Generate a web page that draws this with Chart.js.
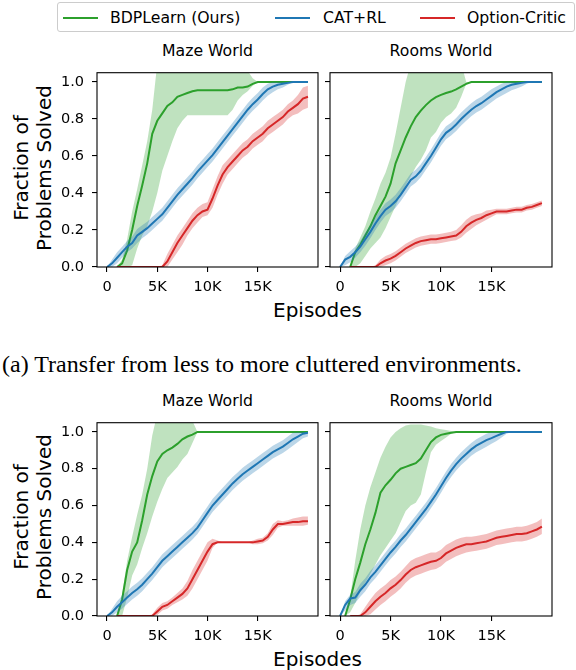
<!DOCTYPE html>
<html lang="en">
<head>
    <meta charset="UTF-8">
    <title>Fraction of Problems Solved</title>
    <style>
        body {
            margin: 0;
            background: #ffffff;
        }

        #page {
            position: relative;
            width: 576px;
            height: 670px;
            overflow: hidden;
            font-family: "DejaVu Sans", sans-serif;
            color: #000;
        }

        canvas {
            position: absolute;
        }

        .txt {
            position: absolute;
            white-space: nowrap;
            line-height: 1;
            transform: translate(-50%, -50%);
        }

        .title { font-size: 15.7px; }
        .xlabel { font-size: 20px; }

        .ylabel {
            font-size: 20px;
            line-height: 23px;
            text-align: center;
            transform: translate(-50%, -50%) rotate(-90deg);
        }

        #caption {
            position: absolute;
            left: 2px;
            top: 364px;
            transform: translateY(-50%);
            font-family: "Liberation Serif", serif;
            font-size: 24px;
            line-height: 1;
            white-space: nowrap;
        }

        #legend {
            position: absolute;
            left: 57px;
            top: 2px;
            width: 518px;
            height: 30px;
            border: 1px solid #cccccc;
            border-radius: 3px;
            box-sizing: border-box;
        }

        .swatch {
            position: absolute;
            top: 14px;
            width: 35px;
            height: 2px;
        }

        .ltext {
            position: absolute;
            top: 15px;
            font-size: 15.7px;
            line-height: 1;
            white-space: nowrap;
            transform: translateY(-50%);
        }
    </style>
</head>
<body>
<div id="page">
    <div id="legend">
        <div class="swatch" style="left:5px;background:#2ca02c"></div>
        <div class="ltext" style="left:52px">BDPLearn (Ours)</div>
        <div class="swatch" style="left:217px;background:#1f77b4"></div>
        <div class="ltext" style="left:265px">CAT+RL</div>
        <div class="swatch" style="left:362px;background:#d62728"></div>
        <div class="ltext" style="left:409px">Option-Critic</div>
    </div>

    <div class="txt title" style="left:207.5px;top:51px">Maze World</div>
    <div class="txt title" style="left:441px;top:51px">Rooms World</div>
    <div class="txt ylabel" style="left:32.5px;top:167.5px">Fraction of<br>Problems Solved</div>
    <div class="txt xlabel" style="left:317.5px;top:310px">Episodes</div>

    <div id="caption">(a) Transfer from less to more cluttered environments.</div>

    <div class="txt title" style="left:207.5px;top:401px">Maze World</div>
    <div class="txt title" style="left:441px;top:401px">Rooms World</div>
    <div class="txt ylabel" style="left:32.5px;top:517px">Fraction of<br>Problems Solved</div>
    <div class="txt xlabel" style="left:317.5px;top:659px">Episodes</div>

    <canvas id="mazeA"></canvas>
    <canvas id="roomsA"></canvas>
    <canvas id="mazeB"></canvas>
    <canvas id="roomsB"></canvas>
</div>

<script src="https://cdn.jsdelivr.net/npm/chart.js@4"></script>
<script>
    // x positions of every sample (episodes)
    const episodes = [0, 500, 1000, 1500, 2000, 2500, 3000, 3500, 4000, 4500,
        5000, 5500, 6000, 6500, 7000, 7500, 8000, 8500, 9000, 9500,
        10000, 10500, 11000, 11500, 12000, 12500, 13000, 13500, 14000, 14500,
        15000, 15500, 16000, 16500, 17000, 17500, 18000, 18500, 19000, 19500, 20000];

    const xTicks = [0, 5000, 10000, 15000];
    const xTickLabels = ['0', '5K', '10K', '15K'];
    const yTicks = [0, 0.2, 0.4, 0.6, 0.8, 1.0];
    const yTickLabels = ['0.0', '0.2', '0.4', '0.6', '0.8', '1.0'];

    // ---- (a) Maze World ----
    const bdpMazeA = [null, null, 0, 0.02, 0.09, 0.2, 0.33, 0.44, 0.56, 0.72,
        0.79, 0.83, 0.87, 0.89, 0.92, 0.93, 0.94, 0.95, 0.955, 0.955,
        0.955, 0.955, 0.955, 0.955, 0.955, 0.96, 0.97, 0.97, 0.975, 0.99,
        1, 1, 1, 1, 1, 1, 1, 1, 1, 1, 1];
    const bdpMazeALow = [0, 0, 0, 0, 0, 0.01, 0.1, 0.17, 0.22, 0.3,
        0.4, 0.52, 0.6, 0.68, 0.75, 0.79, 0.82, 0.82, 0.82, 0.82,
        0.82, 0.82, 0.82, 0.82, 0.82, 0.85, 0.9, 0.93, 0.95, 0.98,
        1, 1, 1, 1, 1, 1, 1, 1, 1, 1, 1];
    const bdpMazeAHigh = [0, 0, 0, 0.04, 0.15, 0.3, 0.42, 0.55, 0.68, 0.85,
        1.1, 1.1, 1.1, 1.1, 1.1, 1.1, 1.1, 1.1, 1.1, 1.1,
        1.1, 1.1, 1.1, 1.1, 1.1, 1.1, 1.1, 1.1, 1.06, 1.02,
        1, 1, 1, 1, 1, 1, 1, 1, 1, 1, 1];
    const catMazeA = [0, 0.02, 0.05, 0.08, 0.11, 0.13, 0.17, 0.19, 0.21, 0.235,
        0.26, 0.285, 0.32, 0.355, 0.39, 0.42, 0.45, 0.48, 0.515, 0.545,
        0.575, 0.605, 0.64, 0.675, 0.71, 0.745, 0.78, 0.815, 0.85, 0.88,
        0.905, 0.935, 0.96, 0.975, 0.985, 0.99, 0.995, 1, 1, 1, 1];
    const catMazeALow = [0, 0, 0.02, 0.05, 0.08, 0.1, 0.13, 0.155, 0.175, 0.2,
        0.225, 0.25, 0.285, 0.32, 0.355, 0.385, 0.415, 0.445, 0.48, 0.51,
        0.54, 0.57, 0.605, 0.64, 0.675, 0.71, 0.745, 0.78, 0.815, 0.845,
        0.87, 0.9, 0.925, 0.945, 0.96, 0.97, 0.985, 1, 1, 1, 1];
    const catMazeAHigh = [0, 0.04, 0.08, 0.11, 0.14, 0.165, 0.205, 0.225, 0.245, 0.27,
        0.295, 0.32, 0.355, 0.39, 0.425, 0.455, 0.485, 0.515, 0.55, 0.58,
        0.61, 0.64, 0.675, 0.71, 0.745, 0.78, 0.815, 0.85, 0.885, 0.915,
        0.94, 0.97, 0.99, 1, 1, 1, 1, 1, 1, 1, 1];
    const ocMazeA = [null, null, 0, 0, 0, 0, 0, 0, 0, 0,
        0, 0, 0.03, 0.08, 0.13, 0.17, 0.21, 0.25, 0.28, 0.3,
        0.31, 0.37, 0.44, 0.5, 0.54, 0.57, 0.6, 0.63, 0.65, 0.68,
        0.7, 0.72, 0.75, 0.77, 0.79, 0.81, 0.84, 0.86, 0.88, 0.91, 0.92];
    const ocMazeALow = [0, 0, 0, 0, 0, 0, 0, 0, 0, 0,
        0, 0, 0, 0.04, 0.08, 0.12, 0.17, 0.21, 0.24, 0.27,
        0.28, 0.32, 0.39, 0.45, 0.5, 0.53, 0.56, 0.59, 0.61, 0.64,
        0.66, 0.68, 0.71, 0.73, 0.75, 0.77, 0.8, 0.82, 0.83, 0.85, 0.86];
    const ocMazeAHigh = [0, 0, 0, 0, 0, 0, 0, 0, 0, 0,
        0, 0.01, 0.07, 0.12, 0.17, 0.21, 0.25, 0.29, 0.32, 0.34,
        0.35, 0.42, 0.49, 0.55, 0.58, 0.61, 0.64, 0.67, 0.69, 0.72,
        0.74, 0.76, 0.79, 0.81, 0.83, 0.85, 0.88, 0.9, 0.93, 0.97, 0.98];

    // ---- (a) Rooms World ----
    const bdpRoomsA = [null, null, 0, 0.08, 0.12, 0.17, 0.22, 0.28, 0.33, 0.38,
        0.45, 0.56, 0.63, 0.7, 0.76, 0.81, 0.845, 0.875, 0.9, 0.918,
        0.93, 0.94, 0.948, 0.96, 0.975, 0.99, 1, 1, 1, 1,
        1, 1, 1, 1, 1, 1, 1, 1, 1, 1, 1];
    const bdpRoomsALow = [0, 0, 0, 0, 0.02, 0.06, 0.1, 0.13, 0.16, 0.21,
        0.27, 0.33, 0.39, 0.44, 0.49, 0.54, 0.58, 0.63, 0.7, 0.73,
        0.78, 0.81, 0.83, 0.86, 0.92, 0.99, 1, 1, 1, 1,
        1, 1, 1, 1, 1, 1, 1, 1, 1, 1, 1];
    const bdpRoomsAHigh = [0, 0, 0, 0.1, 0.16, 0.22, 0.3, 0.37, 0.45, 0.51,
        0.59, 0.72, 0.86, 1.0, 1.1, 1.1, 1.1, 1.1, 1.1, 1.1,
        1.1, 1.1, 1.1, 1.1, 1.1, 1.0, 1, 1, 1, 1,
        1, 1, 1, 1, 1, 1, 1, 1, 1, 1, 1];
    const catRoomsA = [0, 0.04, 0.055, 0.08, 0.11, 0.15, 0.19, 0.235, 0.275, 0.31,
        0.33, 0.355, 0.39, 0.43, 0.47, 0.49, 0.52, 0.56, 0.6, 0.645,
        0.69, 0.725, 0.745, 0.77, 0.8, 0.825, 0.85, 0.87, 0.885, 0.905,
        0.925, 0.945, 0.96, 0.975, 0.985, 0.99, 0.995, 1, 1, 1, 1];
    const catRoomsALow = [0, 0.01, 0.025, 0.05, 0.08, 0.115, 0.155, 0.2, 0.24, 0.275,
        0.295, 0.32, 0.355, 0.395, 0.435, 0.455, 0.485, 0.525, 0.565, 0.61,
        0.655, 0.69, 0.71, 0.735, 0.765, 0.79, 0.815, 0.835, 0.85, 0.87,
        0.89, 0.91, 0.925, 0.94, 0.955, 0.965, 0.975, 0.99, 1, 1, 1];
    const catRoomsAHigh = [0, 0.06, 0.085, 0.11, 0.14, 0.185, 0.225, 0.27, 0.31, 0.345,
        0.365, 0.39, 0.425, 0.465, 0.505, 0.525, 0.555, 0.595, 0.635, 0.68,
        0.725, 0.76, 0.78, 0.805, 0.835, 0.86, 0.885, 0.905, 0.92, 0.94,
        0.96, 0.975, 0.99, 1, 1, 1, 1, 1, 1, 1, 1];
    const ocRoomsA = [null, null, 0, 0, 0, 0, 0, 0, 0.02, 0.035,
        0.045, 0.06, 0.08, 0.1, 0.115, 0.13, 0.14, 0.145, 0.15, 0.15,
        0.155, 0.16, 0.165, 0.17, 0.19, 0.22, 0.24, 0.255, 0.265, 0.28,
        0.29, 0.3, 0.3, 0.3, 0.305, 0.31, 0.31, 0.32, 0.325, 0.335, 0.345];
    const ocRoomsALow = [0, 0, 0, 0, 0, 0, 0, 0, 0, 0.01,
        0.02, 0.035, 0.055, 0.075, 0.09, 0.105, 0.115, 0.12, 0.125, 0.125,
        0.13, 0.135, 0.14, 0.145, 0.16, 0.185, 0.205, 0.225, 0.24, 0.255,
        0.27, 0.285, 0.285, 0.285, 0.29, 0.295, 0.295, 0.305, 0.31, 0.32, 0.33];
    const ocRoomsAHigh = [0, 0, 0, 0, 0, 0, 0, 0.01, 0.04, 0.06,
        0.07, 0.085, 0.105, 0.125, 0.14, 0.155, 0.165, 0.17, 0.175, 0.175,
        0.18, 0.185, 0.19, 0.2, 0.225, 0.255, 0.275, 0.285, 0.29, 0.305,
        0.31, 0.315, 0.315, 0.315, 0.32, 0.325, 0.325, 0.335, 0.34, 0.35, 0.36];

    // ---- (b) Maze World ----
    const bdpMazeB = [null, null, 0, 0.09, 0.25, 0.35, 0.4, 0.52, 0.66, 0.76,
        0.84, 0.88, 0.9, 0.915, 0.935, 0.96, 0.975, 0.985, 1, 1,
        1, 1, 1, 1, 1, 1, 1, 1, 1, 1,
        1, 1, 1, 1, 1, 1, 1, 1, 1, 1, 1];
    const bdpMazeBLow = [0, 0, 0, 0, 0.1, 0.22, 0.28, 0.37, 0.45, 0.54,
        0.62, 0.69, 0.75, 0.78, 0.81, 0.85, 0.88, 0.94, 1, 1,
        1, 1, 1, 1, 1, 1, 1, 1, 1, 1,
        1, 1, 1, 1, 1, 1, 1, 1, 1, 1, 1];
    const bdpMazeBHigh = [0, 0, 0, 0.12, 0.3, 0.43, 0.55, 0.66, 0.8, 0.98,
        1.1, 1.1, 1.1, 1.1, 1.1, 1.1, 1.1, 1.06, 1, 1,
        1, 1, 1, 1, 1, 1, 1, 1, 1, 1,
        1, 1, 1, 1, 1, 1, 1, 1, 1, 1, 1];
    const catMazeB = [0, 0.02, 0.05, 0.075, 0.1, 0.125, 0.145, 0.17, 0.2, 0.23,
        0.265, 0.3, 0.325, 0.35, 0.375, 0.4, 0.425, 0.45, 0.48, 0.52,
        0.56, 0.6, 0.63, 0.66, 0.69, 0.72, 0.745, 0.77, 0.79, 0.81,
        0.83, 0.85, 0.87, 0.89, 0.905, 0.92, 0.94, 0.96, 0.975, 0.99, 0.995];
    const catMazeBLow = [0, 0, 0.02, 0.04, 0.065, 0.09, 0.11, 0.135, 0.165, 0.195,
        0.23, 0.265, 0.29, 0.315, 0.34, 0.365, 0.39, 0.415, 0.445, 0.485,
        0.525, 0.565, 0.595, 0.625, 0.655, 0.685, 0.71, 0.735, 0.755, 0.775,
        0.795, 0.815, 0.835, 0.855, 0.87, 0.885, 0.905, 0.925, 0.945, 0.965, 0.975];
    const catMazeBHigh = [0, 0.04, 0.08, 0.11, 0.135, 0.16, 0.18, 0.205, 0.235, 0.265,
        0.3, 0.335, 0.36, 0.385, 0.41, 0.435, 0.46, 0.485, 0.515, 0.555,
        0.595, 0.635, 0.665, 0.695, 0.725, 0.755, 0.78, 0.805, 0.825, 0.845,
        0.865, 0.885, 0.905, 0.925, 0.94, 0.955, 0.975, 0.995, 1, 1, 1];
    const ocMazeB = [null, null, 0, 0, 0, 0, 0, 0, 0, 0,
        0.025, 0.05, 0.06, 0.08, 0.1, 0.12, 0.15, 0.2, 0.25, 0.3,
        0.35, 0.39, 0.4, 0.4, 0.4, 0.4, 0.4, 0.4, 0.4, 0.4,
        0.405, 0.41, 0.43, 0.47, 0.5, 0.5, 0.505, 0.51, 0.51, 0.515, 0.515];
    const ocMazeBLow = [0, 0, 0, 0, 0, 0, 0, 0, 0, 0,
        0.005, 0.03, 0.04, 0.06, 0.075, 0.09, 0.11, 0.15, 0.2, 0.25,
        0.3, 0.37, 0.4, 0.4, 0.4, 0.4, 0.4, 0.4, 0.4, 0.39,
        0.39, 0.395, 0.41, 0.44, 0.48, 0.49, 0.49, 0.49, 0.49, 0.49, 0.495];
    const ocMazeBHigh = [0, 0, 0, 0, 0, 0, 0, 0, 0, 0.01,
        0.045, 0.07, 0.08, 0.1, 0.125, 0.15, 0.19, 0.25, 0.3, 0.35,
        0.4, 0.42, 0.41, 0.4, 0.4, 0.4, 0.4, 0.4, 0.4, 0.41,
        0.42, 0.425, 0.45, 0.5, 0.52, 0.515, 0.52, 0.53, 0.535, 0.54, 0.54];

    // ---- (b) Rooms World ----
    const bdpRoomsB = [null, 0, 0.09, 0.2, 0.29, 0.39, 0.47, 0.56, 0.67, 0.71,
        0.74, 0.775, 0.8, 0.81, 0.82, 0.83, 0.855, 0.9, 0.945, 0.97,
        0.984, 0.99, 0.995, 1, 1, 1, 1, 1, 1, 1,
        1, 1, 1, 1, 1, 1, 1, 1, 1, 1, 1];
    const bdpRoomsBLow = [0, 0, 0.02, 0.07, 0.13, 0.18, 0.23, 0.28, 0.33, 0.37,
        0.41, 0.45, 0.51, 0.57, 0.6, 0.615, 0.66, 0.78, 0.89, 0.93,
        0.95, 0.97, 0.99, 1, 1, 1, 1, 1, 1, 1,
        1, 1, 1, 1, 1, 1, 1, 1, 1, 1, 1];
    const bdpRoomsBHigh = [0, 0, 0.1, 0.3, 0.47, 0.6, 0.7, 0.78, 0.86, 0.92,
        0.97, 1.0, 1.02, 1.035, 1.04, 1.04, 1.04, 1.035, 1.03, 1.02,
        1.015, 1.01, 1.005, 1, 1, 1, 1, 1, 1, 1,
        1, 1, 1, 1, 1, 1, 1, 1, 1, 1, 1];
    const catRoomsB = [0, 0.06, 0.095, 0.1, 0.14, 0.17, 0.21, 0.24, 0.275, 0.31,
        0.345, 0.375, 0.41, 0.44, 0.475, 0.51, 0.545, 0.58, 0.62, 0.66,
        0.705, 0.75, 0.79, 0.825, 0.855, 0.88, 0.905, 0.925, 0.94, 0.955,
        0.966, 0.978, 0.99, 1, 1, 1, 1, 1, 1, 1, 1];
    const catRoomsBLow = [0, 0.03, 0.06, 0.07, 0.105, 0.135, 0.175, 0.205, 0.24, 0.275,
        0.31, 0.34, 0.375, 0.405, 0.44, 0.475, 0.51, 0.545, 0.585, 0.625,
        0.67, 0.715, 0.755, 0.79, 0.82, 0.845, 0.87, 0.89, 0.905, 0.92,
        0.935, 0.95, 0.97, 0.99, 1, 1, 1, 1, 1, 1, 1];
    const catRoomsBHigh = [0, 0.08, 0.115, 0.13, 0.175, 0.205, 0.245, 0.275, 0.31, 0.345,
        0.38, 0.41, 0.445, 0.475, 0.51, 0.545, 0.58, 0.615, 0.655, 0.695,
        0.74, 0.785, 0.825, 0.86, 0.89, 0.915, 0.94, 0.96, 0.975, 0.99,
        1, 1, 1, 1, 1, 1, 1, 1, 1, 1, 1];
    const ocRoomsB = [null, null, 0, 0, 0, 0.02, 0.05, 0.08, 0.105, 0.125,
        0.15, 0.17, 0.195, 0.225, 0.25, 0.265, 0.275, 0.285, 0.295, 0.3,
        0.315, 0.34, 0.355, 0.37, 0.38, 0.39, 0.39, 0.395, 0.4, 0.405,
        0.415, 0.425, 0.43, 0.435, 0.44, 0.445, 0.445, 0.45, 0.46, 0.47, 0.485];
    const ocRoomsBLow = [0, 0, 0, 0, 0, 0, 0.01, 0.035, 0.06, 0.08,
        0.105, 0.125, 0.15, 0.18, 0.205, 0.22, 0.23, 0.24, 0.25, 0.255,
        0.27, 0.295, 0.31, 0.325, 0.335, 0.345, 0.35, 0.355, 0.36, 0.365,
        0.375, 0.385, 0.39, 0.395, 0.4, 0.405, 0.405, 0.41, 0.42, 0.43, 0.445];
    const ocRoomsBHigh = [0, 0, 0, 0, 0.01, 0.05, 0.09, 0.125, 0.15, 0.17,
        0.195, 0.215, 0.24, 0.27, 0.3, 0.315, 0.325, 0.335, 0.345, 0.345,
        0.36, 0.385, 0.4, 0.415, 0.425, 0.43, 0.43, 0.435, 0.44, 0.445,
        0.455, 0.465, 0.47, 0.475, 0.48, 0.485, 0.485, 0.49, 0.5, 0.51, 0.53];

    const GREEN = '#2ca02c', BLUE = '#1f77b4', RED = '#d62728';
    const GREEN_BAND = 'rgba(44,160,44,0.3)', BLUE_BAND = 'rgba(31,119,180,0.3)', RED_BAND = 'rgba(214,39,40,0.3)';

    Chart.defaults.font.family = '"DejaVu Sans", sans-serif';
    Chart.defaults.color = '#000';

    // draws the full box around each panel, like matplotlib spines
    const frame = {
        id: 'frame',
        afterDatasetsDraw(chart) {
            const a = chart.chartArea;
            const ctx = chart.ctx;
            ctx.save();
            ctx.strokeStyle = '#000';
            ctx.lineWidth = 1.1;
            ctx.strokeRect(a.left, a.top, a.right - a.left, a.bottom - a.top);
            ctx.restore();
        }
    };

    function bandPair(low, high, color, order) {
        return [
            { data: low, borderColor: 'rgba(0,0,0,0)', borderWidth: 0, pointRadius: 0, fill: false, order: order },
            { data: high, borderColor: 'rgba(0,0,0,0)', borderWidth: 0, pointRadius: 0, backgroundColor: color, fill: '-1', order: order }
        ];
    }

    function meanLine(data, color, order) {
        return { data: data, borderColor: color, borderWidth: 2, pointRadius: 0, fill: false, order: order };
    }

    function drawPanel(id, box, showYLabels, green, blue, red) {
        const yAxisW = showYLabels ? 60 : 8;
        const padTop = 12, padRight = 6, xAxisH = 40;
        const canvas = document.getElementById(id);
        canvas.width = yAxisW + (box.right - box.left) + padRight;
        canvas.height = padTop + (box.bottom - box.top) + xAxisH;
        canvas.style.left = (box.left - yAxisW) + 'px';
        canvas.style.top = (box.top - padTop) + 'px';

        const gridOpts = { drawOnChartArea: false, drawTicks: true, tickLength: 5, color: '#000', lineWidth: 1.1 };

        new Chart(canvas, {
            type: 'line',
            data: {
                labels: episodes,
                datasets: [
                    ...bandPair(green[1], green[2], GREEN_BAND, 6),
                    meanLine(green[0], GREEN, 5),
                    ...bandPair(blue[1], blue[2], BLUE_BAND, 4),
                    meanLine(blue[0], BLUE, 3),
                    ...bandPair(red[1], red[2], RED_BAND, 2),
                    meanLine(red[0], RED, 1)
                ]
            },
            options: {
                responsive: false,
                animation: false,
                devicePixelRatio: 1,
                layout: { padding: { top: padTop, right: padRight, left: 0, bottom: 0 } },
                plugins: {
                    legend: { display: false },
                    tooltip: { enabled: false },
                    filler: { propagate: false }
                },
                elements: { line: { tension: 0 } },
                scales: {
                    x: {
                        type: 'linear',
                        min: -1000,
                        max: 21000,
                        afterBuildTicks: s => { s.ticks = xTicks.map(v => ({ value: v })); },
                        afterFit: s => { s.height = xAxisH; },
                        ticks: {
                            callback: (v, i) => xTickLabels[i],
                            font: { size: 14.5 },
                            color: '#000',
                            padding: 7,
                            maxRotation: 0,
                            autoSkip: false
                        },
                        grid: gridOpts,
                        border: { display: false }
                    },
                    y: {
                        min: 0,
                        max: 1.05,
                        afterBuildTicks: s => { s.ticks = yTicks.map(v => ({ value: v })); },
                        afterFit: s => { s.width = yAxisW; },
                        ticks: {
                            callback: (v, i) => showYLabels ? yTickLabels[i] : '',
                            font: { size: 14.5 },
                            color: '#000',
                            padding: 8,
                            autoSkip: false
                        },
                        grid: gridOpts,
                        border: { display: false }
                    }
                }
            },
            plugins: [frame]
        });
    }

    drawPanel('mazeA', { left: 97, top: 68, right: 318, bottom: 267 }, true,
        [bdpMazeA, bdpMazeALow, bdpMazeAHigh], [catMazeA, catMazeALow, catMazeAHigh], [ocMazeA, ocMazeALow, ocMazeAHigh]);
    drawPanel('roomsA', { left: 330, top: 68, right: 552, bottom: 267 }, false,
        [bdpRoomsA, bdpRoomsALow, bdpRoomsAHigh], [catRoomsA, catRoomsALow, catRoomsAHigh], [ocRoomsA, ocRoomsALow, ocRoomsAHigh]);
    drawPanel('mazeB', { left: 97, top: 418, right: 318, bottom: 616 }, true,
        [bdpMazeB, bdpMazeBLow, bdpMazeBHigh], [catMazeB, catMazeBLow, catMazeBHigh], [ocMazeB, ocMazeBLow, ocMazeBHigh]);
    drawPanel('roomsB', { left: 330, top: 418, right: 552, bottom: 616 }, false,
        [bdpRoomsB, bdpRoomsBLow, bdpRoomsBHigh], [catRoomsB, catRoomsBLow, catRoomsBHigh], [ocRoomsB, ocRoomsBLow, ocRoomsBHigh]);
</script>
</body>
</html>
